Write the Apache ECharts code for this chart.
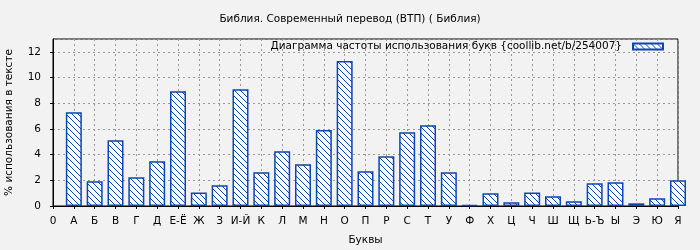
<!DOCTYPE html>
<html><head><meta charset="utf-8">
<script src="https://cdn.jsdelivr.net/npm/echarts@6/dist/echarts.min.js"></script>
<style>html,body{margin:0;padding:0;background:#f2f2f2}#c{width:700px;height:250px}</style>
</head><body><div id="c"></div>
<script>
const tickLabels = ['0','А','Б','В','Г','Д','Е-Ё','Ж','З','И-Й','К','Л','М','Н','О','П','Р','С','Т','У','Ф','Х','Ц','Ч','Ш','Щ','Ь-Ъ','Ы','Э','Ю','Я'];
const letters = ['А','Б','В','Г','Д','Е-Ё','Ж','З','И-Й','К','Л','М','Н','О','П','Р','С','Т','У','Ф','Х','Ц','Ч','Ш','Щ','Ь-Ъ','Ы','Э','Ю','Я'];
const values = [7.30,1.92,5.12,2.23,3.48,8.94,1.06,1.61,9.09,2.62,4.26,3.25,5.92,11.28,2.70,3.87,5.74,6.29,2.62,0.08,0.99,0.29,1.06,0.76,0.37,1.77,1.85,0.21,0.60,2.00];
const titleText = 'Библия. Современный перевод (ВТП) ( Библия)';
const seriesName = 'Диаграмма частоты использования букв {coollib.net/b/254007}';
const xName = 'Буквы';
const yName = '% использования в тексте';

const blue = '#0a46b4';
const tile = document.createElement('canvas');
tile.width = 6; tile.height = 6;
const tc = tile.getContext('2d');
tc.fillStyle = '#ffffff'; tc.fillRect(0,0,6,6);
tc.fillStyle = blue;
for (let i = 0; i < 6; i++) tc.fillRect(i, i, 1, 1);

const font = 'DejaVu Sans';
const fs = 10.5;
const chart = echarts.init(document.getElementById('c'), null, {renderer:'canvas'});
chart.setOption({
  backgroundColor: '#f2f2f2',
  animation: false,
  textStyle: {fontFamily: font},
  title: {text: titleText, left: 'center', top: 9, textStyle: {fontFamily: font, fontSize: fs, fontWeight: 'normal', color: '#000'}},
  legend: {
    right: 36, top: 41, itemWidth: 30, itemHeight: 6, align: 'right', padding: 0, icon: 'rect',
    textStyle: {fontFamily: font, fontSize: fs, color: '#000', padding: [0, 6, 0, 0]},
    data: [seriesName]
  },
  grid: {left: 53, right: 22, top: 39, bottom: 44, outerBoundsMode: 'none', containLabel: false, show: true, borderColor: '#000', borderWidth: 1, backgroundColor: 'transparent'},
  xAxis: {
    type: 'value', min: 0, max: tickLabels.length - 1, interval: 1,
    name: xName, nameLocation: 'middle', nameGap: 29,
    nameTextStyle: {fontFamily: font, fontSize: fs, color: '#000'},
    axisLine: {lineStyle: {color: '#000'}},
    axisTick: {show: true, length: 3, lineStyle: {color: '#000'}},
    axisLabel: {fontFamily: font, fontSize: fs, color: '#000', margin: 10, formatter: v => tickLabels[v] || ''},
    splitLine: {show: true, lineStyle: {color: '#999', type: [2, 3], width: 1}}
  },
  yAxis: {
    type: 'value', min: 0, max: 13, interval: 2,
    name: yName, nameLocation: 'middle', nameGap: 38,
    nameTextStyle: {fontFamily: font, fontSize: fs, color: '#000'},
    axisLine: {show: true, lineStyle: {color: '#000'}},
    axisTick: {show: true, length: 3, lineStyle: {color: '#000'}},
    axisLabel: {fontFamily: font, fontSize: fs, color: '#000', margin: 12, showMaxLabel: false},
    splitLine: {show: true, lineStyle: {color: '#999', type: [2, 3], width: 1}}
  },
  series: [{
    name: seriesName, type: 'bar', barWidth: 16, clip: true,
    itemStyle: {color: {image: tile, repeat: 'repeat'}, borderColor: blue, borderWidth: 1.5},
    data: letters.map((l, i) => [i + 1, values[i]])
  }]
});
</script></body></html>
